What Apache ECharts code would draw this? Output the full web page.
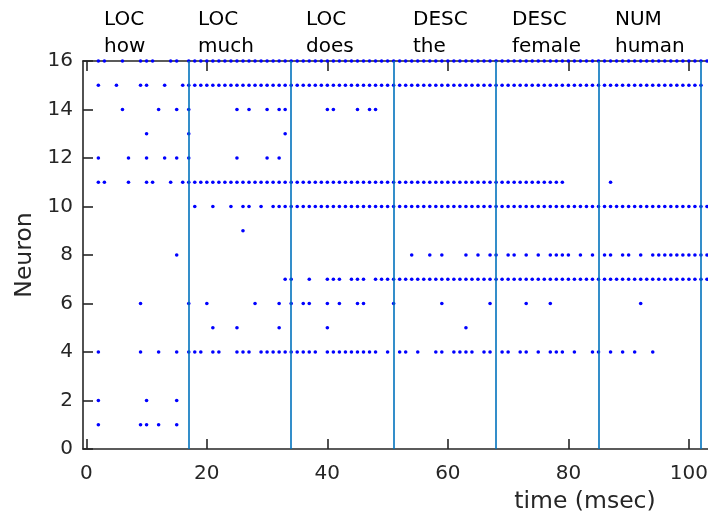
<!DOCTYPE html>
<html>
<head>
<meta charset="utf-8">
<script src="https://cdn.jsdelivr.net/npm/echarts@6/dist/echarts.min.js"></script>
<style>
  html, body { margin: 0; padding: 0; background: #fff; }
  #raster { width: 708px; height: 516px; }
</style>
</head>
<body>
<div id="raster"></div>
<script>
// spike times (msec) for each neuron
var n16 = [2, 3, 6, 9, 10, 11, 14, 15, 17, 18, 19, 20, 21, 22, 23, 24, 25, 26, 27, 28, 29, 30, 31, 32, 33, 34, 35, 36, 37, 38, 39, 40, 41, 42, 43, 44, 45, 46, 47, 48, 49, 50, 51, 52, 53, 54, 55, 56, 57, 58, 59, 60, 61, 62, 63, 64, 65, 66, 67, 68, 69, 70, 71, 72, 73, 74, 75, 76, 77, 78, 79, 80, 81, 82, 83, 84, 85, 86, 87, 88, 89, 90, 91, 92, 93, 94, 95, 96, 97, 98, 99, 100, 101, 102, 103];
var n15 = [2, 5, 9, 10, 13, 16, 17, 18, 19, 20, 21, 22, 23, 24, 25, 26, 27, 28, 29, 30, 31, 32, 33, 34, 35, 36, 37, 38, 39, 40, 41, 42, 43, 44, 45, 46, 47, 48, 49, 50, 51, 52, 53, 54, 55, 56, 57, 58, 59, 60, 61, 62, 63, 64, 65, 66, 67, 68, 69, 70, 71, 72, 73, 74, 75, 76, 77, 78, 79, 80, 81, 82, 83, 84, 85, 86, 87, 88, 89, 90, 91, 92, 93, 94, 95, 96, 97, 98, 99, 100, 101, 102];
var n14 = [6, 12, 15, 17, 25, 27, 30, 32, 33, 40, 41, 45, 47, 48];
var n13 = [10, 17, 33];
var n12 = [2, 7, 10, 13, 15, 17, 25, 30, 32];
var n11 = [2, 3, 7, 10, 11, 14, 16, 17, 18, 19, 20, 21, 22, 23, 24, 25, 26, 27, 28, 29, 30, 31, 32, 33, 34, 35, 36, 37, 38, 39, 40, 41, 42, 43, 44, 45, 46, 47, 48, 49, 50, 51, 52, 53, 54, 55, 56, 57, 58, 59, 60, 61, 62, 63, 64, 65, 66, 67, 68, 69, 70, 71, 72, 73, 74, 75, 76, 77, 78, 79, 87];
var n10 = [18, 21, 24, 26, 27, 29, 31, 32, 33, 34, 35, 36, 37, 38, 39, 40, 41, 42, 43, 44, 45, 46, 47, 48, 49, 50, 51, 52, 53, 54, 55, 56, 57, 58, 59, 60, 61, 62, 63, 64, 65, 66, 67, 68, 69, 70, 71, 72, 73, 74, 75, 76, 77, 78, 79, 80, 81, 82, 83, 84, 85, 86, 87, 88, 89, 90, 91, 92, 93, 94, 95, 96, 97, 98, 99, 100, 101, 102, 103];
var n9 = [26];
var n8 = [15, 54, 57, 59, 63, 65, 67, 68, 70, 71, 73, 75, 77, 78, 79, 80, 82, 84, 86, 87, 89, 90, 92, 94, 95, 96, 97, 98, 99, 100, 101, 102, 103];
var n7 = [33, 34, 37, 40, 41, 42, 44, 45, 46, 48, 49, 50, 51, 52, 53, 54, 55, 56, 57, 58, 59, 60, 61, 62, 63, 64, 65, 66, 67, 68, 69, 70, 71, 72, 73, 74, 75, 76, 77, 78, 79, 80, 81, 82, 83, 84, 85, 86, 87, 88, 89, 90, 91, 92, 93, 94, 95, 96, 97, 98, 99, 100, 101, 102, 103];
var n6 = [9, 17, 20, 28, 32, 34, 36, 37, 40, 42, 45, 46, 51, 59, 67, 73, 77, 92];
var n5 = [21, 25, 32, 40, 63];
var n4 = [2, 9, 12, 15, 17, 18, 19, 21, 22, 25, 26, 27, 29, 30, 31, 32, 33, 34, 35, 36, 37, 38, 40, 41, 42, 43, 44, 45, 46, 47, 48, 50, 52, 53, 55, 58, 59, 61, 62, 63, 64, 66, 67, 69, 70, 72, 73, 75, 77, 78, 79, 81, 84, 85, 87, 89, 91, 94];
var n2 = [2, 10, 15];
var n1 = [2, 9, 10, 12, 15];

// word boundaries (msec) and the words shown above each segment
var boundaries = [17, 34, 51, 68, 85, 102];
var words = ['LOC\nhow', 'LOC\nmuch', 'LOC\ndoes', 'DESC\nthe', 'DESC\nfemale', 'NUM\nhuman'];
var xTicks = [0, 20, 40, 60, 80, 100];

var rows = { 1: n1, 2: n2, 4: n4, 5: n5, 6: n6, 7: n7, 8: n8, 9: n9, 10: n10,
             11: n11, 12: n12, 13: n13, 14: n14, 15: n15, 16: n16 };
var spikes = [];
Object.keys(rows).forEach(function (k) {
  rows[k].forEach(function (t) { spikes.push([t, +k]); });
});

var FONT = 'DejaVu Sans';
var INK = '#262626';
var wordX = [104, 198, 306, 413, 512, 615];
var tickStyle = { color: INK, width: 1.6 };

var myChart = echarts.init(document.getElementById('raster'));
myChart.setOption({
  animation: false,
  backgroundColor: '#fff',
  // the frame runs a little past the right edge of the picture
  grid: { left: 83, top: 61, width: 630, height: 388, containLabel: false, outerBoundsMode: 'none' },
  xAxis: [
    {
      type: 'value', position: 'bottom', min: -0.55, max: 104,
      axisLine: { show: true, onZero: false, lineStyle: tickStyle },
      axisTick: { show: true, inside: true, length: 10, lineStyle: tickStyle, customValues: xTicks },
      axisLabel: { customValues: xTicks, fontSize: 20, fontFamily: FONT, color: INK, margin: 15 },
      splitLine: { show: false }
    },
    {
      type: 'value', position: 'top', min: -0.55, max: 104,
      axisLine: { show: true, onZero: false, lineStyle: tickStyle },
      axisTick: { show: true, inside: true, length: 10, lineStyle: tickStyle, customValues: xTicks },
      axisLabel: { show: false },
      splitLine: { show: false }
    }
  ],
  yAxis: {
    type: 'value', min: 0, max: 16, interval: 2,
    name: 'Neuron', nameLocation: 'middle', nameGap: 41,
    nameTextStyle: { fontSize: 23.5, fontFamily: FONT, color: INK },
    axisLine: { show: true, onZero: false, lineStyle: tickStyle },
    axisTick: { show: true, inside: true, length: 10, lineStyle: tickStyle },
    axisLabel: { fontSize: 20, fontFamily: FONT, color: INK, margin: 10 },
    splitLine: { show: false }
  },
  graphic: words.map(function (w, i) {
    return {
      type: 'text', left: wordX[i], top: 6,
      style: { text: w, fontSize: 20, fontFamily: FONT, fill: '#000', lineHeight: 27 }
    };
  }).concat([{
    type: 'text', x: 585, y: 502,
    style: { text: 'time (msec)', fontSize: 23.5, fontFamily: FONT, fill: INK,
             align: 'center', verticalAlign: 'middle' }
  }]),
  series: [
    {
      type: 'scatter', silent: true, z: 1,
      data: [],
      markLine: {
        silent: true, symbol: ['none', 'none'],
        label: { show: false },
        lineStyle: { color: '#0072BD', width: 1.6, type: 'solid', opacity: 1 },
        data: boundaries.map(function (b) { return { xAxis: b }; })
      }
    },
    {
      name: 'spikes', type: 'scatter', silent: true, z: 3,
      symbolSize: 3.6,
      itemStyle: { color: '#0000ff', opacity: 1 },
      data: spikes
    }
  ]
});
</script>
</body>
</html>
